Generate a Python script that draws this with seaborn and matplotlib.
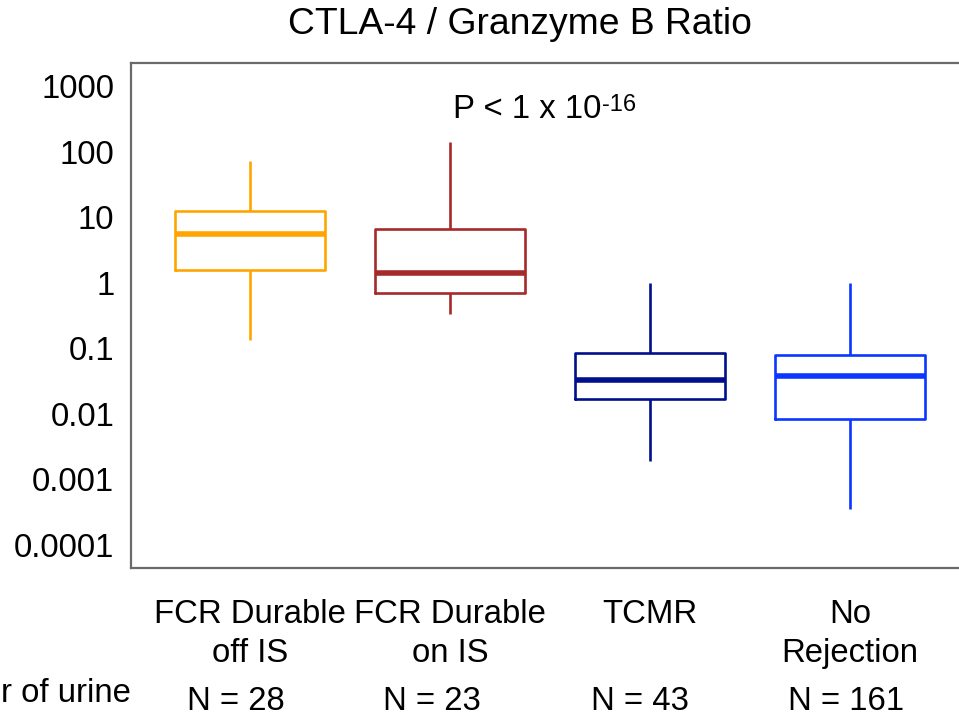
import numpy as np
import pandas as pd
import matplotlib
matplotlib.use("Agg")
import matplotlib.pyplot as plt
import matplotlib.transforms as mtransforms
import seaborn as sns

# ---- data ----
categories = ["FCR Durable\noff IS", "FCR Durable\non IS", "TCMR", "No\nRejection"]
# five-number summaries: whisker low, Q1, median, Q3, whisker high
whisker_low = [0.133, 0.33, 0.0019, 0.00036]
q1 = [1.55, 0.69, 0.017, 0.0084]
median = [5.6, 1.39, 0.033, 0.038]
q3 = [12.6, 6.7, 0.085, 0.079]
whisker_high = [72, 141, 1.0, 1.0]
n_labels = ["N = 28", "N = 23", "N = 43", "N = 161"]
colors = ["#FFA500", "#A52A2A", "#00108C", "#0A36FF"]
ytick_vals = [0.0001, 0.001, 0.01, 0.1, 1, 10, 100, 1000]
ytick_labels = ["0.0001", "0.001", "0.01", "0.1", "1", "10", "100", "1000"]

rows = []
for c, lo, a, m, b, hi in zip(categories, whisker_low, q1, median, q3, whisker_high):
    for v in (lo, a, m, b, hi):
        rows.append({"group": c, "ratio": v})
df = pd.DataFrame(rows)

sns.set_style("white")
plt.rcParams["font.family"] = ["Liberation Sans", "DejaVu Sans"]
plt.rcParams["text.color"] = "black"
plt.rcParams["xtick.labelcolor"] = "black"
plt.rcParams["ytick.labelcolor"] = "black"

FS = 23.7

fig = plt.figure(figsize=(9.59, 7.16), dpi=100)
ax = fig.add_axes([131 / 959, 1 - 568 / 716, 838 / 959, (568 - 63) / 716])

sns.boxplot(
    data=df, x="group", y="ratio", hue="group", order=categories,
    hue_order=categories, palette=colors, fill=False, legend=False,
    log_scale=True, whis=np.inf, width=0.75, showcaps=False,
    linewidth=1.9, medianprops={"linewidth": 4.0}, ax=ax,
)

ax.set_yscale("log")
ax.set_ylim(10 ** -4.35, 10 ** 3.35)
ax.set_xlim(-0.595, 3.595)
ax.set_yticks(ytick_vals)
ax.set_yticklabels(ytick_labels)
ax.yaxis.set_minor_locator(matplotlib.ticker.NullLocator())
ax.set_xticks(range(len(categories)))
ax.set_xticklabels(categories, linespacing=1.34)
ax.set_xlabel("")
ax.set_ylabel("")

ax.tick_params(axis="both", labelsize=FS, colors="#333333", labelcolor="black",
               length=6, width=1.6, direction="out")
ax.tick_params(axis="y", pad=6)
ax.tick_params(axis="x", pad=16)
for side in ["left", "top", "bottom", "right"]:
    ax.spines[side].set_color("#6a6a6a")
    ax.spines[side].set_linewidth(1.6)
    ax.spines[side].set_visible(True)

# title (centred where the reference places it)
fig.text(519.5 / 959, 1 - 25 / 716, "CTLA-4 / Granzyme B Ratio", fontsize=26.8,
         ha="center", va="center")

# p-value annotation with a hyphen superscript
t1 = ax.text(1.5 - 0.485, 10 ** 2.64, "P < 1 x 10", fontsize=FS, ha="left", va="center")
ax.annotate("-16", xy=(1.0, 1.0), xycoords=t1, xytext=(0.5, 0), textcoords="offset points",
            fontsize=17, ha="left", va="top")

# sample count row
ntrans = mtransforms.blended_transform_factory(ax.transData, fig.transFigure)
offsets = [-0.07, -0.09, -0.05, -0.02]
for i, (lab, off) in enumerate(zip(n_labels, offsets)):
    ax.text(i + off, 1 - 701 / 716, lab, transform=ntrans,
            fontsize=FS, ha="center", va="center")

fig.text(1 / 959, 1 - 693 / 716, "r of urine", fontsize=FS, ha="left", va="center")

fig.savefig("out.png", dpi=100)
